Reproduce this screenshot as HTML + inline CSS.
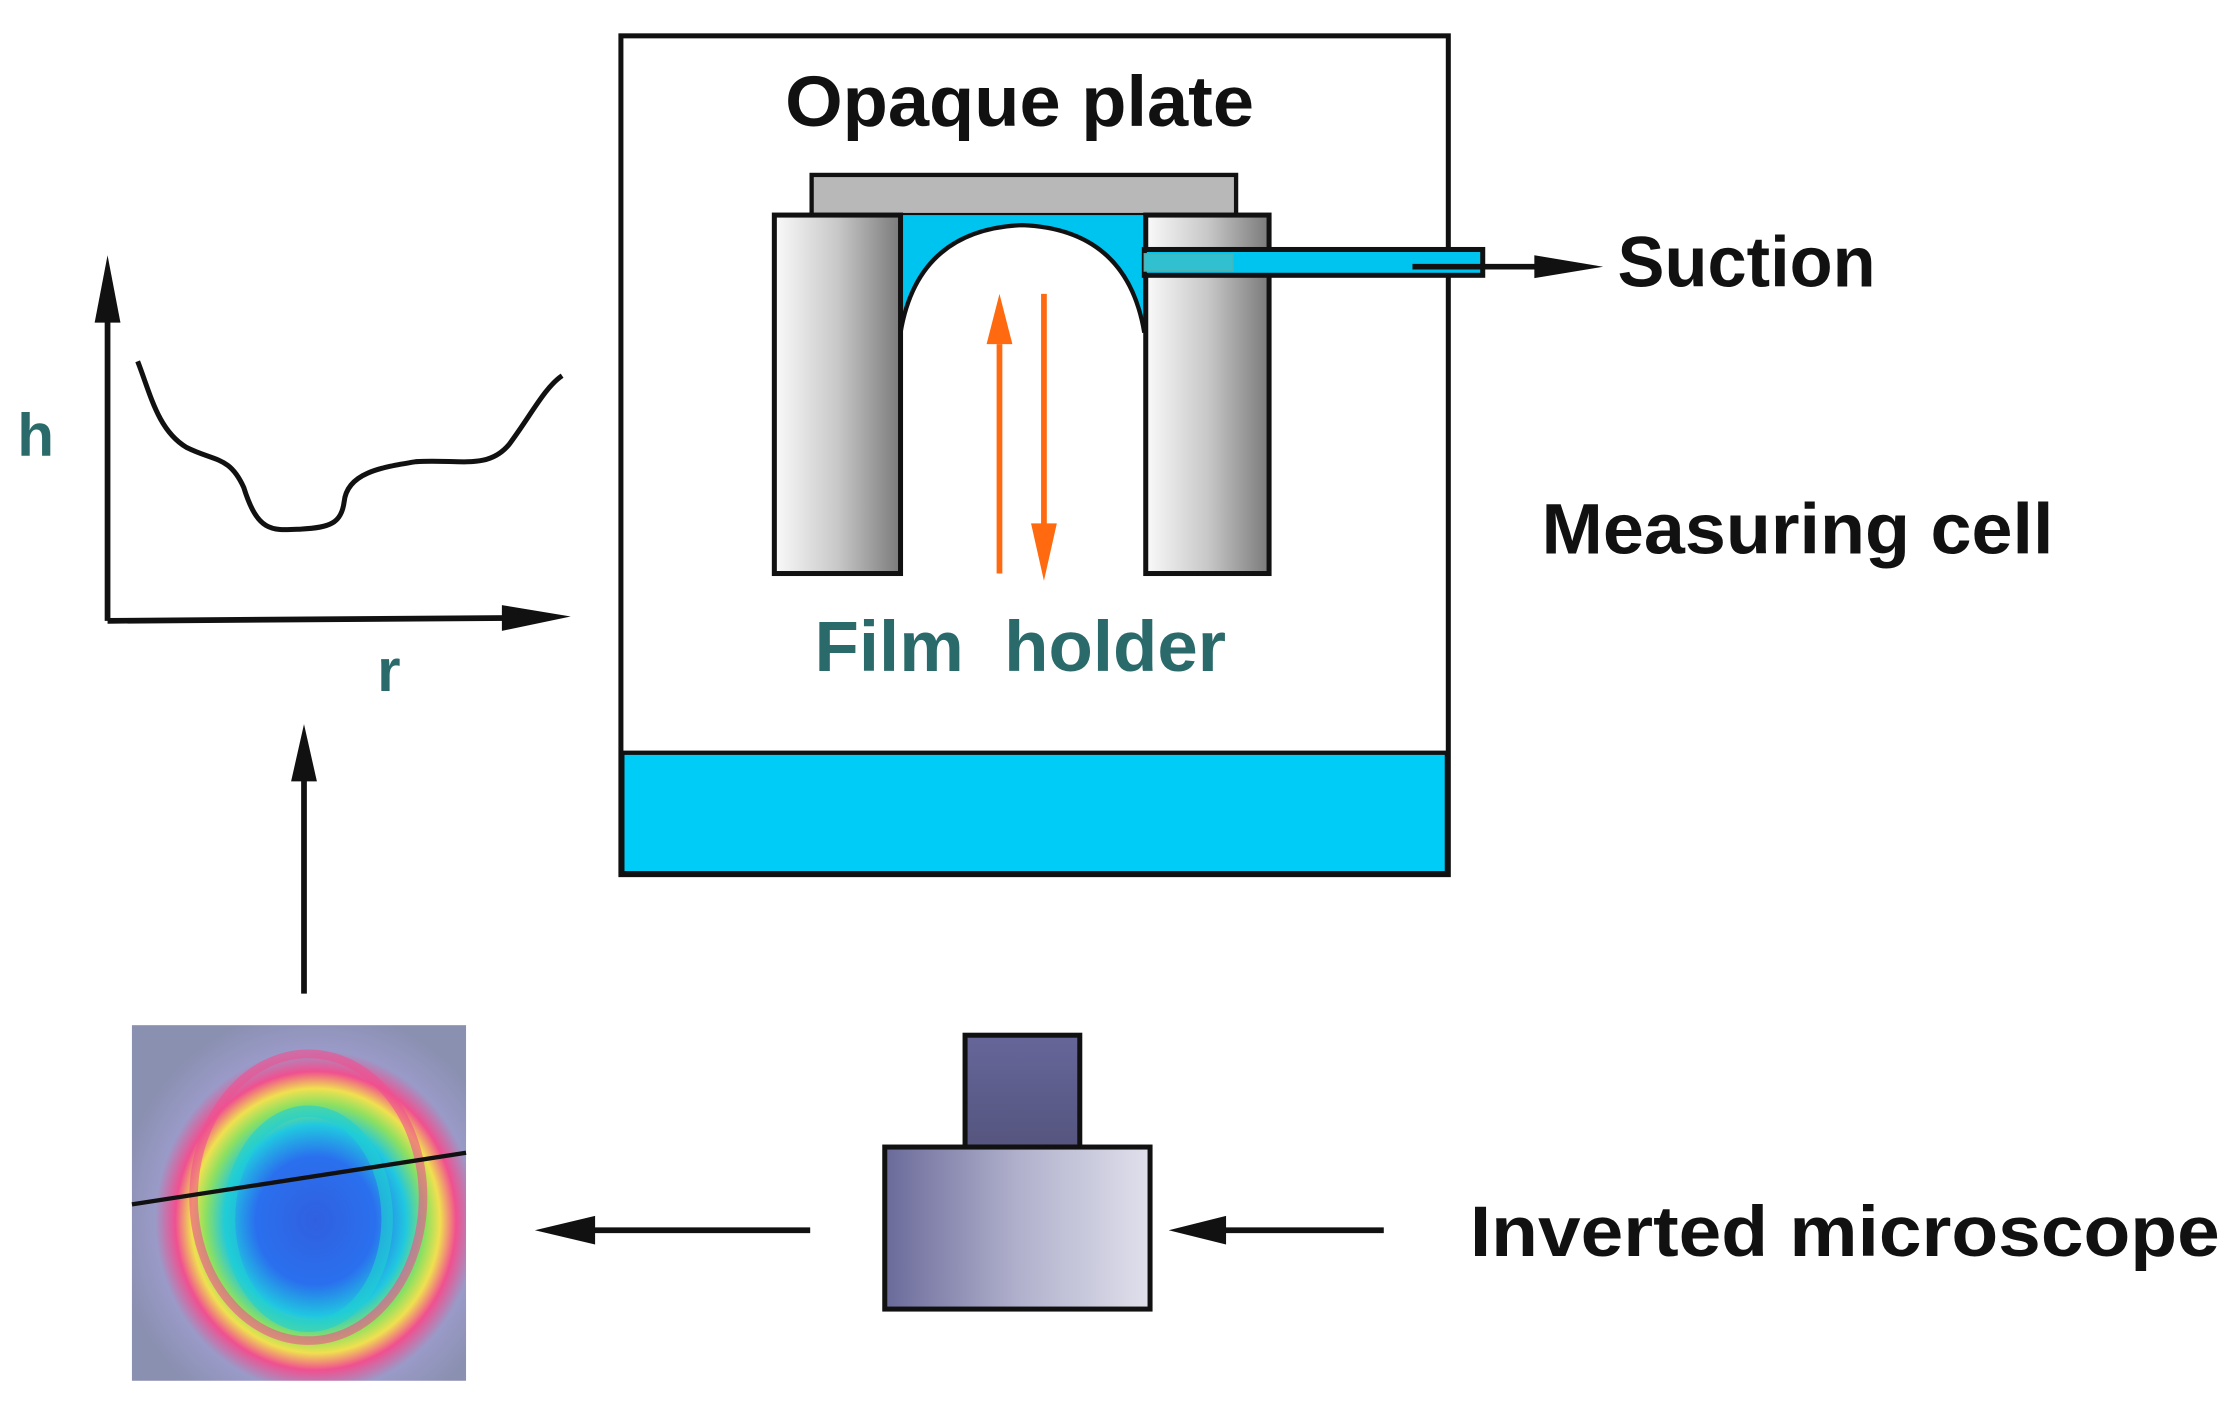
<!DOCTYPE html>
<html><head><style>html,body{margin:0;padding:0;background:#fff}svg{display:block}</style></head>
<body>
<svg width="2237" height="1408" viewBox="0 0 1560 982" preserveAspectRatio="none" xmlns="http://www.w3.org/2000/svg" font-family="Liberation Sans, DejaVu Sans, sans-serif" font-weight="bold">
<defs>
<linearGradient id="pil" x1="0" x2="1" y1="0" y2="0"><stop offset="0" stop-color="#fafafa"/><stop offset="0.5" stop-color="#c8c8c8"/><stop offset="1" stop-color="#7a7a7a"/></linearGradient>
<linearGradient id="mic" x1="0" x2="1"><stop offset="0" stop-color="#6a6a9a"/><stop offset="0.5" stop-color="#b0b0cc"/><stop offset="1" stop-color="#e0e0ec"/></linearGradient>
<linearGradient id="mic2" x1="0" x2="0" y1="0" y2="1"><stop offset="0" stop-color="#66669a"/><stop offset="1" stop-color="#55557f"/></linearGradient>
<radialGradient id="img" cx="0.55" cy="0.55" r="0.6"><stop offset="0" stop-color="#3060e0"/><stop offset="0.3" stop-color="#2a70ee"/><stop offset="0.45" stop-color="#20c8e0"/><stop offset="0.55" stop-color="#8ee060"/><stop offset="0.62" stop-color="#f0e050"/><stop offset="0.7" stop-color="#f05090"/><stop offset="0.8" stop-color="#9a9ac8"/><stop offset="1" stop-color="#8a90b0"/></radialGradient>
</defs>
<rect x="433" y="25" width="577" height="585" fill="#fff" stroke="#111" stroke-width="3.5"/>
<rect x="434" y="525" width="575" height="84" fill="#00ccf8" stroke="#111" stroke-width="3"/>
<text x="711" y="88" font-size="50" text-anchor="middle" textLength="327" lengthAdjust="spacingAndGlyphs" fill="#111">Opaque plate</text>
<rect x="566" y="122" width="296" height="28" fill="#b8b8b8" stroke="#111" stroke-width="3"/>
<rect x="628" y="150" width="170" height="90" fill="#00c4f0"/>
<path d="M628 232 Q 640 160 713 157 Q 786 160 798 232 L798 402 L628 402 Z" fill="#fff"/>
<path d="M628 232 Q 640 160 713 157 Q 786 160 798 232" fill="none" stroke="#111" stroke-width="3"/>
<rect x="540" y="150" width="88" height="250" fill="url(#pil)" stroke="#111" stroke-width="3.5"/>
<rect x="799" y="150" width="86" height="250" fill="url(#pil)" stroke="#111" stroke-width="3.5"/>
<rect x="798" y="174" width="236" height="18" fill="#00c4f0" stroke="#111" stroke-width="3.5"/>
<rect x="798" y="177" width="62" height="12" fill="#30c0d0" stroke="#50b0b0" stroke-width="1"/>
<line x1="985" y1="186" x2="1080" y2="186" stroke="#111" stroke-width="4"/>
<polygon points="1070,178 1118,186 1070,194" fill="#111"/>
<text x="1128" y="200" font-size="50" textLength="180" lengthAdjust="spacingAndGlyphs" fill="#111">Suction</text>
<line x1="697" y1="400" x2="697" y2="240" stroke="#ff6a10" stroke-width="4"/>
<polygon points="688,240 697,205 706,240" fill="#ff6a10"/>
<line x1="728" y1="205" x2="728" y2="370" stroke="#ff6a10" stroke-width="4"/>
<polygon points="719,365 728,405 737,365" fill="#ff6a10"/>
<text x="568" y="468" font-size="50" textLength="287" lengthAdjust="spacingAndGlyphs" fill="#2a6a6a">Film&#160;&#160;holder</text>
<text x="1075" y="386" font-size="50" textLength="357" lengthAdjust="spacingAndGlyphs" fill="#111">Measuring cell</text>
<line x1="75" y1="433" x2="75" y2="220" stroke="#111" stroke-width="4"/>
<polygon points="66,225 75,178 84,225" fill="#111"/>
<line x1="75" y1="433" x2="355" y2="431" stroke="#111" stroke-width="4"/>
<polygon points="350,422 398,430 350,440" fill="#111"/>
<path d="M96 252 C105 275 110 300 130 312 C150 322 160 318 170 340 C180 372 190 370 210 369 C230 368 238 365 240 350 C242 330 265 326 290 322 C320 320 340 328 355 310 C370 290 380 270 392 262" fill="none" stroke="#111" stroke-width="3.5"/>
<text x="12" y="318" font-size="42" fill="#2a6a6a">h</text>
<text x="263" y="482" font-size="42" fill="#2a6a6a">r</text>
<line x1="212" y1="693" x2="212" y2="540" stroke="#111" stroke-width="4"/>
<polygon points="203,545 212,505 221,545" fill="#111"/>
<rect x="92" y="715" width="233" height="248" fill="url(#img)"/>
<ellipse cx="215" cy="835" rx="80" ry="100" fill="none" stroke="#f05090" stroke-width="6" opacity="0.6"/>
<ellipse cx="215" cy="850" rx="55" ry="75" fill="none" stroke="#20d0d0" stroke-width="8" opacity="0.6"/>
<line x1="92" y1="840" x2="325" y2="804" stroke="#111" stroke-width="3"/>
<line x1="565" y1="858" x2="410" y2="858" stroke="#111" stroke-width="4"/>
<polygon points="415,848 373,858 415,868" fill="#111"/>
<line x1="965" y1="858" x2="850" y2="858" stroke="#111" stroke-width="4"/>
<polygon points="855,848 815,858 855,868" fill="#111"/>
<rect x="673" y="722" width="80" height="78" fill="url(#mic2)" stroke="#111" stroke-width="3.5"/>
<rect x="617" y="800" width="185" height="113" fill="url(#mic)" stroke="#111" stroke-width="3.5"/>
<text x="1025" y="876" font-size="50" textLength="523" lengthAdjust="spacingAndGlyphs" fill="#111">Inverted microscope</text>
</svg>
</body></html>
